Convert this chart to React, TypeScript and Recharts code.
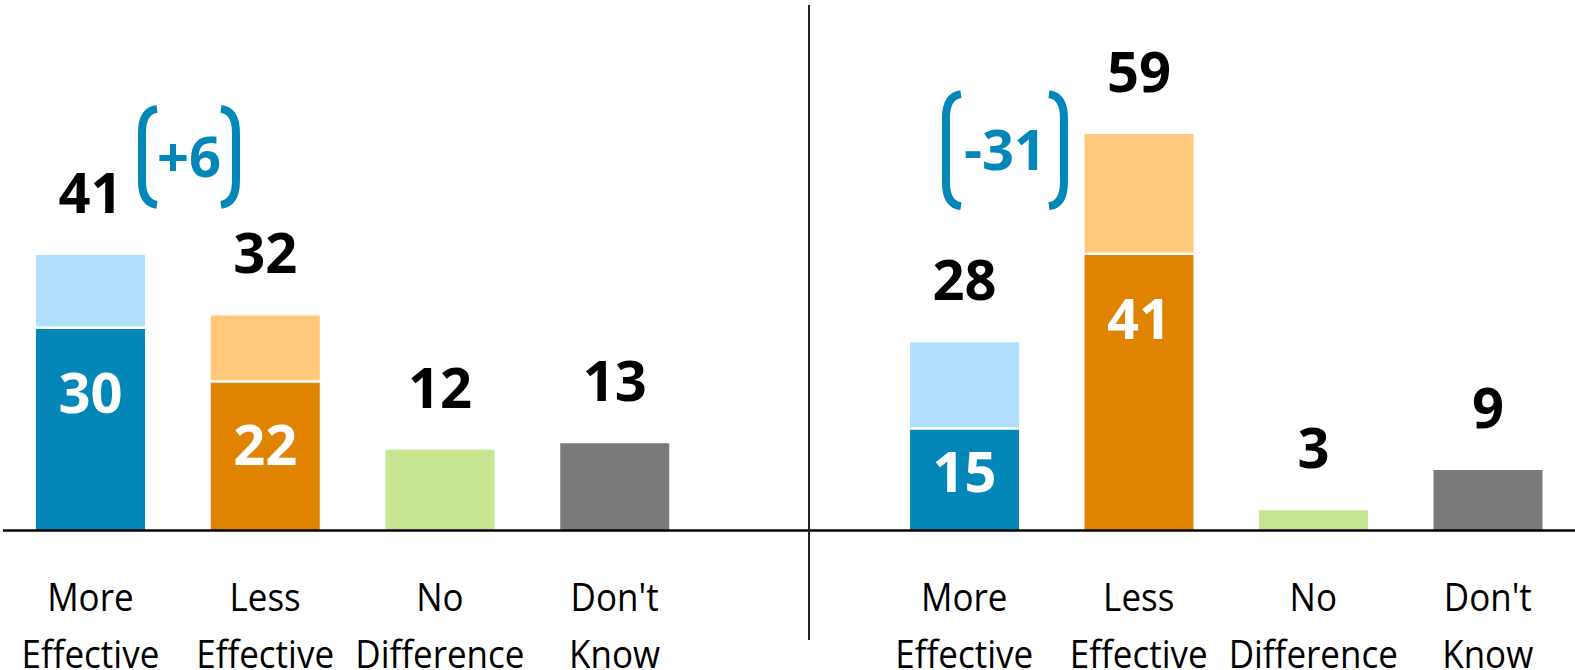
import React from "react";
import { ComposedChart, Bar, XAxis, YAxis, Cell, LabelList, ReferenceDot } from "recharts";

// ----- data -----
const categories = ["More Effective", "Less Effective", "No Difference", "Don't Know"];
const leftBase = [30, 22, 12, 13];
const leftExtra = [11, 10, 0, 0];
const rightBase = [15, 41, 3, 9];
const rightExtra = [13, 18, 0, 0];
const changeLabels = ["+6", "-31"];

const baseColors = ["#0386B8", "#E08300", "#C7E491", "#7A7A7A"];
const extraColors = ["#B0DEFC", "#FFC87A", "#C7E491", "#7A7A7A"];
const BLUE = "#0386B8";
const FONT = "'Open Sans', 'Noto Sans', sans-serif";

const buildRows = (base: number[], extra: number[]) =>
  categories.map((name, i) => ({
    name,
    base: base[i],
    extra: extra[i],
    total: base[i] + extra[i],
    inner: extra[i] > 0 ? base[i] : null,
  }));

const leftRows = buildRows(leftBase, leftExtra);
const rightRows = buildRows(rightBase, rightExtra);

// two-line category labels (stretched a bit to get the tall, narrow look)
const CategoryTick = (props: any) => {
  const { x, y, payload } = props;
  const words = String(payload.value).split(" ");
  return (
    <g>
      {words.map((w, i) => (
        <text
          key={i}
          transform={`translate(${x}, ${y + 80.5 + i * 57}) scale(1, 1.12)`}
          textAnchor="middle"
          fontFamily={FONT}
          fontSize={35}
          fill="#000"
        >
          {w}
        </text>
      ))}
    </g>
  );
};

// upper segment leaves a thin white gap above the darker one
const ExtraShape = (props: any) => {
  const { x, y, width, height, fill } = props;
  if (!height || height <= 0) return null;
  return <rect x={x} y={y} width={width} height={Math.max(height - 2.5, 0)} fill={fill} />;
};

const TotalLabel = (props: any) => {
  const { x, y, width, value } = props;
  return (
    <text x={x + width / 2} y={y - 42} textAnchor="middle" fontFamily={FONT} fontWeight={700} fontSize={56} fill="#000">
      {value}
    </text>
  );
};

const InnerLabel = (props: any) => {
  const { x, y, width, height, value } = props;
  if (value == null) return null;
  const cy = y + Math.min(64, height * 0.42);
  return (
    <text x={x + width / 2} y={cy + 20} textAnchor="middle" fontFamily={FONT} fontWeight={700} fontSize={56} fill="#fff">
      {value}
    </text>
  );
};

const Bracket = (props: any) => {
  const { cx, cy, dx, w, h, text } = props;
  const mx = cx + dx;
  const l = mx - w / 2;
  const r = mx + w / 2;
  const t = cy - h / 2;
  const b = cy + h / 2;
  const c = 15;
  return (
    <g>
      <path
        d={`M ${l + c} ${t} Q ${l} ${t + 2} ${l} ${t + 24} L ${l} ${b - 24} Q ${l} ${b - 2} ${l + c} ${b}`}
        stroke={BLUE}
        strokeWidth={8}
        fill="none"
      />
      <path
        d={`M ${r - c} ${t} Q ${r} ${t + 2} ${r} ${t + 24} L ${r} ${b - 24} Q ${r} ${b - 2} ${r - c} ${b}`}
        stroke={BLUE}
        strokeWidth={8}
        fill="none"
      />
      <text x={mx} y={cy + 20} textAnchor="middle" fontFamily={FONT} fontWeight={700} fontSize={56} fill={BLUE}>
        {text}
      </text>
    </g>
  );
};

const Panel = ({ rows, width, marginLeft, padLeft, padRight, note }: any) => (
  <ComposedChart
    width={width}
    height={670}
    data={rows}
    margin={{ top: 26.5, right: 0, bottom: 0, left: marginLeft }}
  >
    <YAxis hide domain={[0, 75]} />
    <XAxis
      dataKey="name"
      height={139.5}
      padding={{ left: padLeft, right: padRight }}
      axisLine={{ stroke: "#000", strokeWidth: 2.5 }}
      tickLine={false}
      tickSize={0}
      tickMargin={0}
      interval={0}
      tick={<CategoryTick />}
    />
    <Bar dataKey="base" stackId="a" barSize={109} isAnimationActive={false}>
      {rows.map((r: any, i: number) => (
        <Cell key={r.name} fill={baseColors[i]} />
      ))}
      <LabelList dataKey="inner" content={<InnerLabel />} />
    </Bar>
    <Bar dataKey="extra" stackId="a" barSize={109} isAnimationActive={false} shape={<ExtraShape />}>
      {rows.map((r: any, i: number) => (
        <Cell key={r.name} fill={extraColors[i]} />
      ))}
      <LabelList dataKey="total" content={<TotalLabel />} />
    </Bar>
    <ReferenceDot
      x={note.x}
      y={note.y}
      r={0}
      isFront
      shape={(p: any) => <Bracket {...p} dx={note.dx} w={note.w} h={note.h} text={note.text} />}
    />
  </ComposedChart>
);

export default function App() {
  return (
    <div style={{ position: "absolute", left: 0, top: 0, width: 1575, height: 670, background: "#fff", overflow: "hidden" }}>
      <div style={{ position: "absolute", left: 0, top: 0 }}>
        <Panel
          rows={leftRows}
          width={809}
          marginLeft={3}
          padLeft={0}
          padRight={107}
          note={{ x: categories[0], y: 55.6, dx: 98.6, w: 94, h: 96, text: changeLabels[0] }}
        />
      </div>
      <div style={{ position: "absolute", left: 809, top: 0 }}>
        <Panel
          rows={rightRows}
          width={766}
          marginLeft={0}
          padLeft={68}
          padRight={0}
          note={{ x: categories[0], y: 56.6, dx: 40.7, w: 118, h: 112, text: changeLabels[1] }}
        />
      </div>
      <div style={{ position: "absolute", left: 808, top: 5, width: 1.5, height: 635, background: "#222" }} />
    </div>
  );
}
